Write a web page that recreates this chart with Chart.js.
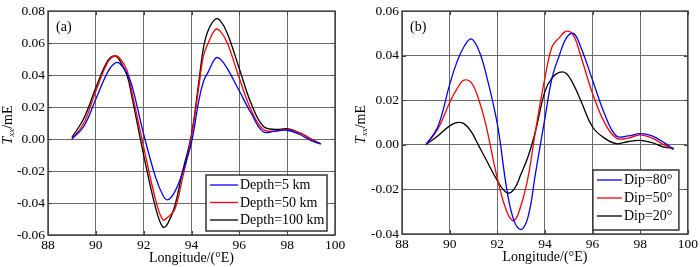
<!DOCTYPE html>
<html>
<head>
<meta charset="utf-8">
<script src="https://cdn.jsdelivr.net/npm/chart.js@4/dist/chart.umd.min.js"></script>
<style>
  html, body { margin: 0; padding: 0; background: #fff; }
  #wrap { position: relative; width: 700px; height: 267px; }
  canvas { position: absolute; top: 0; }
</style>
</head>
<body>
<div id="wrap">
  <canvas id="chartA" width="350" height="267" style="left:0"></canvas>
  <canvas id="chartB" width="350" height="267" style="left:350px"></canvas>
</div>
<script>
// panel (a): depth
const lonA = [89, 89.5, 90, 90.5, 90.8, 91, 91.3, 91.5, 92, 92.5, 92.8, 93, 93.3, 93.6, 94, 94.3, 94.5, 94.7, 95, 95.2, 95.5, 96, 96.5, 97, 97.5, 98, 98.5, 99, 99.4];
const depth5 = [0, 0.008, 0.025, 0.042, 0.0475, 0.0472, 0.041, 0.034, 0.003, -0.024, -0.035, -0.038, -0.033, -0.022, -0.002, 0.0235, 0.036, 0.042, 0.0505, 0.050, 0.044, 0.030, 0.016, 0.0045, 0.005, 0.0055, 0.003, -0.001, -0.003];
const depth50 = [0, 0.010, 0.030, 0.048, 0.052, 0.0505, 0.043, 0.030, -0.005, -0.038, -0.0505, -0.049, -0.044, -0.026, 0.002, 0.032, 0.052, 0.060, 0.0685, 0.0675, 0.060, 0.038, 0.018, 0.006, 0.005, 0.006, 0.004, 0, -0.003];
const depth100 = [0.001, 0.013, 0.032, 0.049, 0.052, 0.049, 0.040, 0.027, -0.010, -0.043, -0.055, -0.053, -0.042, -0.022, 0.003, 0.035, 0.057, 0.068, 0.075, 0.074, 0.066, 0.044, 0.022, 0.008, 0.006, 0.0065, 0.004, 0, -0.003];

// panel (b): dip
const lonB = [89, 89.5, 90, 90.3, 90.6, 90.9, 91.2, 91.5, 92, 92.4, 92.7, 93, 93.3, 93.6, 94, 94.3, 94.6, 94.9, 95.2, 95.5, 96, 96.5, 97, 97.5, 98, 98.5, 99, 99.4];
const dip80 = [0, 0.008, 0.027, 0.037, 0.044, 0.0475, 0.043, 0.033, 0.0095, -0.020, -0.034, -0.038, -0.032, -0.013, 0.012, 0.030, 0.040, 0.048, 0.050, 0.044, 0.029, 0.014, 0.004, 0.004, 0.005, 0.004, 0.001, -0.002];
const dip50 = [0, 0.007, 0.019, 0.025, 0.029, 0.028, 0.021, 0.010, -0.015, -0.030, -0.034, -0.027, -0.014, 0.006, 0.030, 0.044, 0.048, 0.051, 0.049, 0.040, 0.023, 0.010, 0.003, 0.003, 0.0045, 0.003, 0, -0.002];
const dip20 = [0, 0.004, 0.0085, 0.010, 0.0095, 0.006, 0.0, -0.006, -0.016, -0.0215, -0.020, -0.013, -0.005, 0.006, 0.024, 0.030, 0.0325, 0.032, 0.027, 0.020, 0.008, 0.003, 0.0005, 0.0015, 0.002, 0.001, -0.001, -0.0015];

const xTicks = [88, 90, 92, 94, 96, 98, 100];
const namesA = ['Depth=5 km', 'Depth=50 km', 'Depth=100 km'];
const namesB = ['Dip=80°', 'Dip=50°', 'Dip=20°'];
const colors = ['#0000ff', '#ff0000', '#000000'];

const FONT = '"Liberation Serif", "Times New Roman", serif';

function pts(xs, ys) {
  return xs.map((x, i) => ({ x: x, y: ys[i] }));
}

// frame, inward ticks, legend box, titles
const decor = {
  id: 'decor',
  afterDatasetsDraw(chart, args, o) {
    const ctx = chart.ctx;
    const a = chart.chartArea;
    const xs = chart.scales.x, ys = chart.scales.y;
    ctx.save();

    // legend
    const lx = a.right - o.legRight, lw = o.legW;
    const ly = a.bottom - o.legBottom, lh = o.legH;
    ctx.fillStyle = '#fff';
    ctx.fillRect(lx - lw, ly - lh, lw, lh);
    ctx.strokeStyle = '#333';
    ctx.lineWidth = 1.5;
    ctx.strokeRect(lx - lw, ly - lh, lw, lh);
    ctx.font = '14px ' + FONT;
    ctx.textBaseline = 'middle';
    chart.data.datasets.forEach((ds, i) => {
      const y = ly - lh + o.legFirst + i * o.legGap;
      const x0 = lx - lw + 4;
      ctx.strokeStyle = ds.borderColor;
      ctx.lineWidth = 1.3;
      ctx.beginPath();
      ctx.moveTo(x0, y);
      ctx.lineTo(x0 + o.legLine, y);
      ctx.stroke();
      ctx.fillStyle = '#000';
      ctx.textAlign = 'left';
      ctx.fillText(ds.label, x0 + o.legLine + 2, y + 0.5);
    });

    // inward tick marks
    ctx.strokeStyle = '#444';
    ctx.lineWidth = 1;
    ctx.beginPath();
    xs.ticks.forEach(t => {
      const px = Math.round(xs.getPixelForValue(t.value)) + 0.5;
      ctx.moveTo(px, a.bottom); ctx.lineTo(px, a.bottom - 4);
      ctx.moveTo(px, a.top); ctx.lineTo(px, a.top + 4);
    });
    ys.ticks.forEach(t => {
      const py = Math.round(ys.getPixelForValue(t.value)) + 0.5;
      ctx.moveTo(a.left, py); ctx.lineTo(a.left + 4, py);
      ctx.moveTo(a.right, py); ctx.lineTo(a.right - 4, py);
    });
    ctx.stroke();

    // frame
    ctx.strokeStyle = '#444';
    ctx.lineWidth = 1.5;
    ctx.strokeRect(a.left, a.top, a.right - a.left, a.bottom - a.top);

    // panel tag
    ctx.fillStyle = '#000';
    ctx.font = '14px ' + FONT;
    ctx.textAlign = 'left';
    ctx.textBaseline = 'middle';
    ctx.fillText(o.tag, a.left + 8, a.top + 16);

    // x title
    ctx.textAlign = 'center';
    ctx.fillText('Longitude/(°E)', (a.left + a.right) / 2, a.bottom + 23);

    // y title: T with italic subscript xx, then /mE
    ctx.translate(o.yTitleX, (a.top + a.bottom) / 2 + 2);
    ctx.rotate(-Math.PI / 2);
    ctx.textAlign = 'left';
    const f1 = 'italic 14px ' + FONT, f2 = 'italic 9px ' + FONT, f3 = '14px ' + FONT;
    ctx.font = f1; const w1 = ctx.measureText('T').width;
    ctx.font = f2; const w2 = ctx.measureText('xx').width;
    ctx.font = f3; const w3 = ctx.measureText('/mE').width;
    let x = -(w1 + w2 + w3) / 2;
    ctx.font = f1; ctx.fillText('T', x, 0); x += w1;
    ctx.font = f2; ctx.fillText('xx', x, 4); x += w2;
    ctx.font = f3; ctx.fillText('/mE', x, 0);
    ctx.restore();
  }
};

function makeChart(id, lon, series, names, yMin, yMax, o) {
  return new Chart(document.getElementById(id), {
    type: 'line',
    data: {
      datasets: series.map((s, i) => ({
        label: names[i],
        data: pts(lon, s),
        borderColor: colors[i],
        borderWidth: 1.3,
        pointRadius: 0,
        fill: false,
        tension: 0.4,
      })),
    },
    options: {
      responsive: false,
      animation: false,
      layout: { padding: { top: 9, right: o.padRight, left: 0, bottom: 0 } },
      plugins: {
        legend: { display: false },
        tooltip: { enabled: false },
        decor: o,
      },
      scales: {
        x: {
          type: 'linear',
          min: 88, max: 100,
          afterBuildTicks: s => { s.ticks = xTicks.map(v => ({ value: v })); },
          afterFit: s => { s.height = o.xHeight; },
          border: { display: false },
          grid: { color: '#6a6a6a', lineWidth: 1, drawTicks: false },
          ticks: { color: '#000', padding: 2, maxRotation: 0, font: { family: FONT, size: 13.5 } },
        },
        y: {
          min: yMin, max: yMax,
          afterFit: s => { s.width = o.yWidth; },
          border: { display: false },
          grid: { color: '#6a6a6a', lineWidth: 1, drawTicks: false },
          ticks: {
            stepSize: 0.02, color: '#000', padding: 3,
            font: { family: FONT, size: 13.5 },
            callback: v => v.toFixed(2),
          },
        },
      },
    },
    plugins: [decor],
  });
}

makeChart('chartA', lonA, [depth5, depth50, depth100], namesA, -0.06, 0.08, {
  tag: '(a)', padRight: 15, yWidth: 48, xHeight: 32, yTitleX: 8,
  legRight: 8, legBottom: 4, legW: 121, legH: 56, legFirst: 10, legGap: 17.5, legLine: 28,
});
makeChart('chartB', lonB, [dip80, dip50, dip20], namesB, -0.04, 0.06, {
  tag: '(b)', padRight: 10, yWidth: 52, xHeight: 33, yTitleX: 11,
  legRight: 9, legBottom: 4, legW: 86, legH: 60, legFirst: 10, legGap: 18, legLine: 25,
});
</script>
</body>
</html>
